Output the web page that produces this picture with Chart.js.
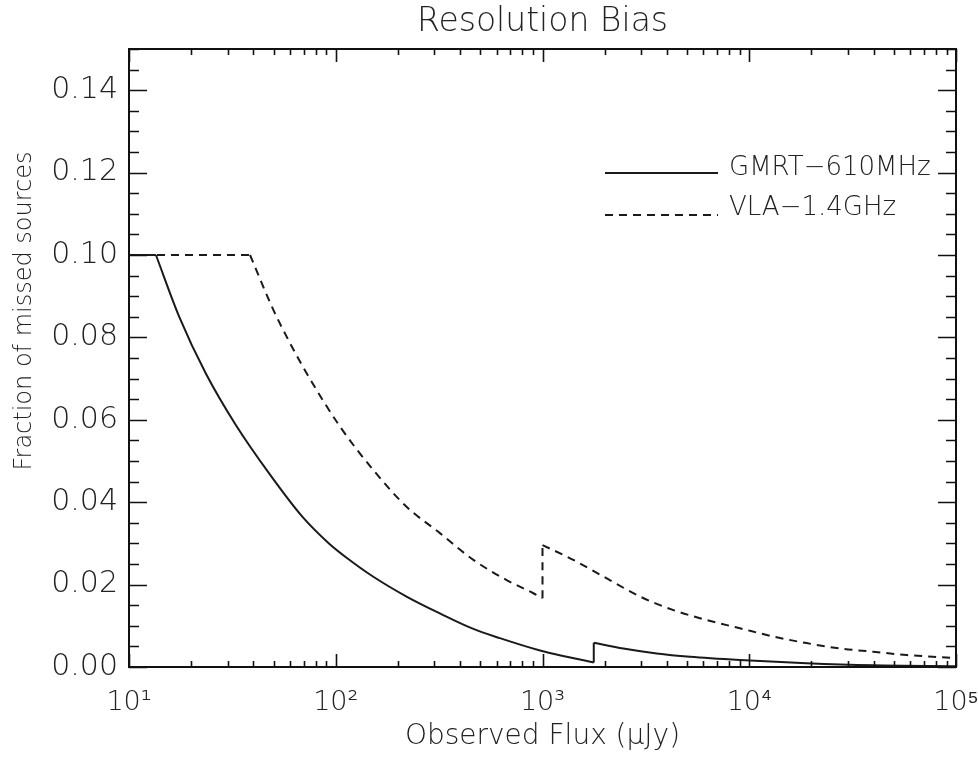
<!DOCTYPE html>
<html><head><meta charset="utf-8">
<script src="https://cdn.jsdelivr.net/npm/chart.js@4/dist/chart.umd.min.js"></script>
<style>html,body{margin:0;padding:0;background:#fff;}#wrap{width:978px;height:760px;}</style>
</head><body><div id="wrap"><canvas id="c" width="978" height="760"></canvas></div>
<script>
// ---- chart text ----
const chartTitle = 'Resolution Bias';
const xAxisTitle = 'Observed Flux (\u03bcJy)';
const yAxisTitle = 'Fraction of missed sources';
const seriesLabels = ['GMRT\u2212610MHz', 'VLA\u22121.4GHz'];

// ---- series: GMRT 610 MHz (solid) ----
const gmrtFlux = [10, 13.5, 17.5, 23.5, 32.8, 47.6, 68.9, 92.7, 113.7, 152, 220, 319, 460, 622, 973, 1309, 1770, 1770, 2460, 3566, 5168, 9016, 18930, 39800, 100000];
const gmrtFrac = [0.100, 0.100, 0.085, 0.0713, 0.0588, 0.047, 0.0365, 0.030, 0.0264, 0.0219, 0.0171, 0.0130, 0.0093, 0.0070, 0.0040, 0.0025, 0.0011, 0.0059, 0.0045, 0.0033, 0.0025, 0.0017, 0.0009, 0.0004, 0.0002];

// ---- series: VLA 1.4 GHz (dashed) ----
const vlaFlux = [10, 38.5, 49.9, 60.1, 72.3, 104.7, 152, 220, 319, 463, 671, 903, 1000, 1000, 1409, 2046, 2966, 4300, 6223, 9016, 13060, 18930, 27480, 39800, 57700, 83700, 100000];
const vlaFrac = [0.100, 0.100, 0.0867, 0.0786, 0.0713, 0.0584, 0.0478, 0.0389, 0.0325, 0.0260, 0.0211, 0.0179, 0.0167, 0.0296, 0.0260, 0.0215, 0.0171, 0.0138, 0.0114, 0.0094, 0.0074, 0.0058, 0.0045, 0.0037, 0.0029, 0.0024, 0.0022];

// ---- axes ----
const xDecades = [10, 100, 1000, 10000, 100000];
const xTickLabels = ['10\u00b9', '10\u00b2', '10\u00b3', '10\u2074', '10\u2075'];
const yMajorTicks = [0.00, 0.02, 0.04, 0.06, 0.08, 0.10, 0.12, 0.14];
const yRange = [0, 0.15];
const yMinorStep = 0.005;

const FONT = "'DejaVu Sans', sans-serif";
const WEIGHT = 300;
const TEXT = '#222222';
const INK = '#111111';

// Build points; flat runs and vertical jumps become their own straight pieces
// (separated by gaps) so the smooth interpolation only bends the curved parts.
function toPts(xs, ys) {
  const out = [];
  let piece = [];
  const flush = () => { if (piece.length) { if (out.length) out.push({x: piece[0].x, y: null}); out.push(...piece); } piece = []; };
  for (let i = 0; i < xs.length; i++) {
    const p = {x: xs[i], y: ys[i]};
    if (i > 0) {
      const straight = xs[i] === xs[i - 1] || ys[i] === ys[i - 1];
      const prevStraight = i > 1 && (xs[i - 1] === xs[i - 2] || ys[i - 1] === ys[i - 2]);
      if (straight !== prevStraight && i > 1) {
        const last = piece[piece.length - 1];
        flush();
        piece.push({x: last.x, y: last.y});
      }
    }
    piece.push(p);
  }
  flush();
  return out;
}

// tick value lists (positions only)
const xTickValues = [];
for (let d = 0; d < xDecades.length; d++) {
  const base = xDecades[d];
  if (d === xDecades.length - 1) { xTickValues.push(base); break; }
  for (let k = 1; k < 10; k++) xTickValues.push(base * k);
}
const yTickValues = [];
for (let v = yRange[0]; v <= yRange[1] + 1e-9; v += yMinorStep) yTickValues.push(Math.round(v * 1000) / 1000);

const isXMajor = v => xDecades.some(d => Math.abs(d - v) < 1e-6);
const isYMajor = v => yMajorTicks.some(m => Math.abs(m - v) < 1e-9);

const framePlugin = {
  id: 'idlFrame',
  afterDraw(chart) {
    const ctx = chart.ctx;
    const a = chart.chartArea;
    const xs = chart.scales.x, ys = chart.scales.y;
    ctx.save();
    ctx.strokeStyle = INK;
    ctx.lineWidth = 2;
    ctx.strokeRect(a.left, a.top, a.right - a.left, a.bottom - a.top);
    ctx.lineWidth = 1.6;
    ctx.beginPath();
    xTickValues.forEach(v => {
      const px = Math.round(xs.getPixelForValue(v)) + 0.5;
      const len = isXMajor(v) ? 13 : 6;
      ctx.moveTo(px, a.bottom); ctx.lineTo(px, a.bottom - len);
      ctx.moveTo(px, a.top); ctx.lineTo(px, a.top + len);
    });
    yTickValues.forEach(v => {
      const py = Math.round(ys.getPixelForValue(v)) + 0.5;
      const len = isYMajor(v) ? 18 : 10;
      ctx.moveTo(a.left, py); ctx.lineTo(a.left + len, py);
      ctx.moveTo(a.right, py); ctx.lineTo(a.right - len, py);
    });
    ctx.stroke();

    ctx.fillStyle = TEXT;
    // title centred over the plot box
    ctx.font = WEIGHT + ' 33px ' + FONT;
    ctx.textAlign = 'center';
    ctx.textBaseline = 'middle';
    ctx.fillText(chartTitle, (a.left + a.right) / 2, 22);

    // y-axis title
    ctx.save();
    ctx.font = WEIGHT + ' 24px ' + FONT;
    ctx.translate(25, a.top + 262);
    ctx.rotate(-Math.PI / 2);
    ctx.fillText(yAxisTitle, 0, 0);
    ctx.restore();

    // legend (IDL style, right side)
    ctx.font = WEIGHT + ' 26px ' + FONT;
    ctx.textAlign = 'left';
    ctx.textBaseline = 'alphabetic';
    const rows = [{base: a.top + 126, line: a.top + 124}, {base: a.top + 166, line: a.top + 166}];
    chart.data.datasets.forEach((ds, i) => {
      const r = rows[i];
      ctx.strokeStyle = ds.borderColor;
      ctx.lineWidth = ds.borderWidth;
      ctx.setLineDash(ds.borderDash || []);
      ctx.beginPath();
      ctx.moveTo(a.right - 351, r.line);
      ctx.lineTo(a.right - 238, r.line);
      ctx.stroke();
      ctx.setLineDash([]);
      ctx.fillText(ds.label, a.right - 227, r.base);
    });
    ctx.restore();
  }
};

new Chart(document.getElementById('c'), {
  type: 'scatter',
  data: {
    datasets: [
      {label: seriesLabels[0], data: toPts(gmrtFlux, gmrtFrac), showLine: true, spanGaps: false, cubicInterpolationMode: 'monotone', borderColor: '#1a1a1a', borderWidth: 2, pointRadius: 0, fill: false},
      {label: seriesLabels[1], data: toPts(vlaFlux, vlaFrac), showLine: true, spanGaps: false, cubicInterpolationMode: 'monotone', borderColor: '#1a1a1a', borderWidth: 2, borderDash: [8, 6], pointRadius: 0, fill: false}
    ]
  },
  options: {
    responsive: false,
    devicePixelRatio: 1,
    animation: false,
    layout: {padding: {top: 49, right: 22, left: 0, bottom: 0}},
    plugins: {legend: {display: false}, title: {display: false}, tooltip: {enabled: false}},
    scales: {
      x: {
        type: 'logarithmic', min: 10, max: 100000,
        grid: {display: false, drawTicks: false},
        border: {display: false},
        afterBuildTicks: s => { s.ticks = xTickValues.map(v => ({value: v})); },
        afterFit: s => { s.height = 93; s.paddingLeft = 0; s.paddingRight = 0; },
        ticks: {
          autoSkip: false, maxRotation: 0, padding: 20, color: TEXT,
          font: {family: FONT, size: 27, weight: WEIGHT},
          callback: v => { const i = xDecades.findIndex(d => Math.abs(d - v) < 1e-6); return i >= 0 ? xTickLabels[i] : ''; }
        },
        title: {display: true, text: xAxisTitle, color: TEXT, font: {family: FONT, size: 28, weight: WEIGHT}, padding: {top: 0, bottom: 6}}
      },
      y: {
        type: 'linear', min: yRange[0], max: yRange[1],
        grid: {display: false, drawTicks: false},
        border: {display: false},
        afterBuildTicks: s => { s.ticks = yTickValues.map(v => ({value: v})); },
        afterFit: s => { s.width = 129; s.paddingTop = 0; s.paddingBottom = 0; },
        ticks: {
          autoSkip: false, padding: 11, color: TEXT,
          font: {family: FONT, size: 30, weight: WEIGHT},
          callback: v => isYMajor(v) ? v.toFixed(2) : ''
        },
        title: {display: false, text: yAxisTitle}
      }
    }
  },
  plugins: [framePlugin]
});
</script>
</body></html>
